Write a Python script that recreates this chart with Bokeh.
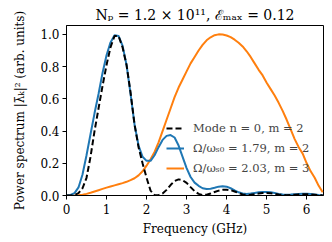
from bokeh.plotting import figure
from bokeh.models import Range1d, FixedTicker, Legend, LegendItem, NumeralTickFormatter
from bokeh.embed import file_html
from bokeh.resources import INLINE

freq = [0.0, 0.1, 0.2, 0.3, 0.4, 0.5, 0.6, 0.7, 0.8, 0.9,
        1.0, 1.1, 1.2, 1.3, 1.4, 1.5, 1.6, 1.7, 1.8, 1.9,
        2.0, 2.1, 2.2, 2.3, 2.4, 2.5, 2.6, 2.7, 2.8, 2.9,
        3.0, 3.1, 3.2, 3.3, 3.4, 3.5, 3.6, 3.7, 3.8, 3.9,
        4.0, 4.1, 4.2, 4.3, 4.4, 4.5, 4.6, 4.7, 4.8, 4.9,
        5.0, 5.1, 5.2, 5.3, 5.4, 5.5, 5.6, 5.7, 5.8, 5.9,
        6.0, 6.1, 6.2, 6.3, 6.4]

mode_n0_m2 = [0.0, 0.0, 0.003, 0.015, 0.045, 0.11, 0.24, 0.40, 0.54, 0.68,
              0.81, 0.92, 0.99, 0.99, 0.92, 0.81, 0.64, 0.44, 0.30, 0.20,
              0.11, 0.03, 0.003, 0.002, 0.012, 0.035, 0.065, 0.09, 0.10, 0.095,
              0.078, 0.052, 0.027, 0.01, 0.003, 0.005, 0.012, 0.022, 0.03, 0.035,
              0.036, 0.033, 0.025, 0.015, 0.007, 0.003, 0.004, 0.008, 0.012, 0.015,
              0.016, 0.014, 0.01, 0.006, 0.003, 0.002, 0.003, 0.005, 0.007, 0.008,
              0.008, 0.006, 0.004, 0.002, 0.001]

omega_179_m2 = [0.0, 0.003, 0.015, 0.05, 0.13, 0.25, 0.38, 0.51, 0.63, 0.76,
                0.87, 0.95, 0.995, 0.99, 0.93, 0.81, 0.63, 0.44, 0.31, 0.24,
                0.215, 0.215, 0.25, 0.30, 0.345, 0.37, 0.375, 0.36, 0.31, 0.24,
                0.17, 0.115, 0.08, 0.06, 0.045, 0.04, 0.042, 0.048, 0.055, 0.058,
                0.055, 0.045, 0.032, 0.02, 0.013, 0.01, 0.012, 0.016, 0.02, 0.022,
                0.022, 0.02, 0.015, 0.01, 0.006, 0.005, 0.006, 0.008, 0.01, 0.011,
                0.011, 0.009, 0.006, 0.003, 0.002]

omega_203_m3 = [0.0, 0.0, 0.0, 0.002, 0.005, 0.01, 0.017, 0.025, 0.033, 0.041,
                0.049, 0.056, 0.063, 0.07, 0.077, 0.085, 0.095, 0.107, 0.125, 0.15,
                0.185, 0.225, 0.27, 0.33, 0.40, 0.47, 0.54, 0.61, 0.67, 0.72,
                0.77, 0.82, 0.86, 0.90, 0.935, 0.963, 0.982, 0.995, 1.0, 0.999,
                0.993, 0.983, 0.967, 0.948, 0.925, 0.895, 0.86, 0.82, 0.78, 0.745,
                0.70, 0.66, 0.62, 0.575, 0.525, 0.47, 0.41, 0.35, 0.30, 0.26,
                0.20, 0.15, 0.11, 0.06, 0.02]

x_ticks = [0, 1, 2, 3, 4, 5, 6]
y_ticks = [0.0, 0.2, 0.4, 0.6, 0.8, 1.0]

title_text = "Nₚ = 1.2 × 10¹¹, ℰₘₐₓ = 0.12"
x_label = "Frequency (GHz)"
y_label = "Power spectrum |λ̄ₖ|² (arb. units)"
labels = ["Mode n = 0, m = 2", "Ω/ωₛ₀ = 1.79, m = 2", "Ω/ωₛ₀ = 2.03, m = 3"]

FONT = "DejaVu Serif"
FS_LABEL = "12px"
FS_LEGEND = "11.5px"
FS_TICK = "12px"
FS_TITLE = "14px"

p = figure(frame_width=257, frame_height=170, output_backend="svg", toolbar_location=None,
           x_range=Range1d(0, 6.42), y_range=Range1d(0, 1.055),
           min_border_left=66, min_border_right=9, min_border_top=25, min_border_bottom=47)
p.background_fill_color = "white"
p.border_fill_color = "white"
p.outline_line_color = "black"
p.outline_line_width = 1
p.xgrid.visible = False
p.ygrid.visible = False

p.title.text = title_text
p.title.align = "center"
p.title.text_font = FONT
p.title.text_font_size = FS_TITLE
p.title.text_font_style = "normal"
p.title.text_color = "black"
p.title.standoff = 5

for ax in (p.xaxis[0], p.yaxis[0]):
    ax.axis_line_color = "black"
    ax.major_tick_line_color = "black"
    ax.major_tick_out = 4
    ax.major_tick_in = 0
    ax.minor_tick_line_color = None
    ax.major_label_text_font = FONT
    ax.major_label_text_font_size = FS_TICK
    ax.major_label_text_color = "black"
    ax.axis_label_text_font = FONT
    ax.axis_label_text_font_size = FS_LABEL
    ax.axis_label_text_font_style = "normal"
    ax.axis_label_text_color = "black"

p.xaxis.ticker = FixedTicker(ticks=x_ticks)
p.yaxis.ticker = FixedTicker(ticks=y_ticks)
p.yaxis.formatter = NumeralTickFormatter(format="0.0")
p.xaxis.axis_label = x_label
p.yaxis.axis_label = y_label
p.xaxis.major_label_standoff = 4
p.yaxis.major_label_standoff = 3
p.xaxis.axis_label_standoff = 5
p.yaxis.axis_label_standoff = 10

r_orange = p.line(freq, omega_203_m3, line_color="#ff7f0e", line_width=2)
r_blue = p.line(freq, omega_179_m2, line_color="#1f77b4", line_width=2)
r_black = p.line(freq, mode_n0_m2, line_color="black", line_width=2, line_dash="6 3")

legend = Legend(items=[LegendItem(label=labels[0], renderers=[r_black]),
                       LegendItem(label=labels[1], renderers=[r_blue]),
                       LegendItem(label=labels[2], renderers=[r_orange])],
                location=(100, 17), background_fill_alpha=0, border_line_alpha=0,
                padding=0, margin=0, spacing=0, glyph_width=18, glyph_height=20,
                label_height=20, label_standoff=9,
                label_text_font=FONT, label_text_font_size=FS_LEGEND)
p.add_layout(legend, "center")

open("out.html", "w").write(file_html(p, INLINE))
